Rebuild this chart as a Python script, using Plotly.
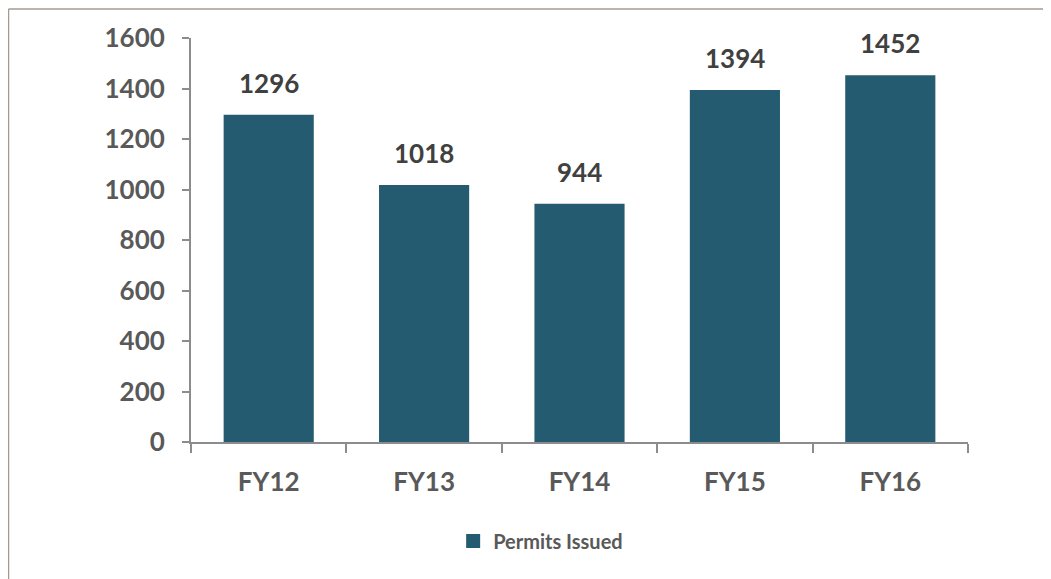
import plotly.graph_objects as go

years = ['FY12', 'FY13', 'FY14', 'FY15', 'FY16']
permits = [1296, 1018, 944, 1394, 1452]
y_ticks = [0, 200, 400, 600, 800, 1000, 1200, 1400, 1600]

bar_color = '#245b70'
axis_color = '#8c8c8c'
font_family = 'Lato, "Open Sans", sans-serif'

# page body has an 8px margin, so offset the plot area accordingly
W, H = 1051, 579
m_l, m_r, m_t, m_b = 183, 91, 30, 145

fig = go.Figure()
fig.add_trace(go.Bar(x=years, y=permits, name='Permits Issued',
                     marker=dict(color=bar_color, line=dict(width=0)),
                     hoverinfo='x+y', showlegend=False))
# legend entry with a larger square swatch
fig.add_trace(go.Scatter(x=[None], y=[None], mode='markers', name='Permits Issued',
                         marker=dict(symbol='square', size=14, color=bar_color),
                         showlegend=True, hoverinfo='skip'))

# value labels above bars
for yr, v in zip(years, permits):
    fig.add_annotation(x=yr, y=v, text=str(v), showarrow=False,
                       yanchor='bottom', yshift=14,
                       font=dict(family=font_family, size=26, color='#404040', weight='bold'))

# frame around the chart (only top and left edges visible in the crop)
pw, ph = W - m_l - m_r, H - m_t - m_b
x_left = (0.5 - m_l) / pw
y_top = (ph + m_t - 1) / ph
fig.add_shape(type='line', xref='paper', yref='paper', x0=x_left, x1=(W + 5 - m_l) / pw,
              y0=y_top, y1=y_top, line=dict(color='#a39a93', width=1.5))
fig.add_shape(type='line', xref='paper', yref='paper', x0=x_left, x1=x_left,
              y0=y_top, y1=-(m_b + 5) / ph, line=dict(color='#a39a93', width=1.5))

fig.update_layout(
    width=W, height=H,
    margin=dict(l=m_l, r=m_r, t=m_t, b=m_b),
    paper_bgcolor='white', plot_bgcolor='white',
    bargap=0.42,
    showlegend=True,
    legend=dict(orientation='h', x=0.45, xanchor='center', y=-0.245, yanchor='middle',
                font=dict(family=font_family, size=20, color='#595959', weight='bold'),
                itemwidth=30),
    font=dict(family=font_family),
)
fig.update_xaxes(showline=True, linecolor=axis_color, linewidth=2,
                 ticks='outside', tickson='boundaries', ticklen=9, tickcolor=axis_color, tickwidth=2,
                 ticklabelstandoff=16,
                 tickfont=dict(family=font_family, size=26, color='#595959', weight='bold'),
                 showgrid=False)
fig.update_yaxes(range=[0, 1600], tickvals=y_ticks, showline=True, linecolor=axis_color, linewidth=2,
                 ticks='outside', ticklen=7, tickcolor=axis_color, tickwidth=2,
                 ticklabelstandoff=12,
                 tickfont=dict(family=font_family, size=26, color='#595959', weight='bold'),
                 showgrid=False, zeroline=False)

fig.write_html('out.html')
